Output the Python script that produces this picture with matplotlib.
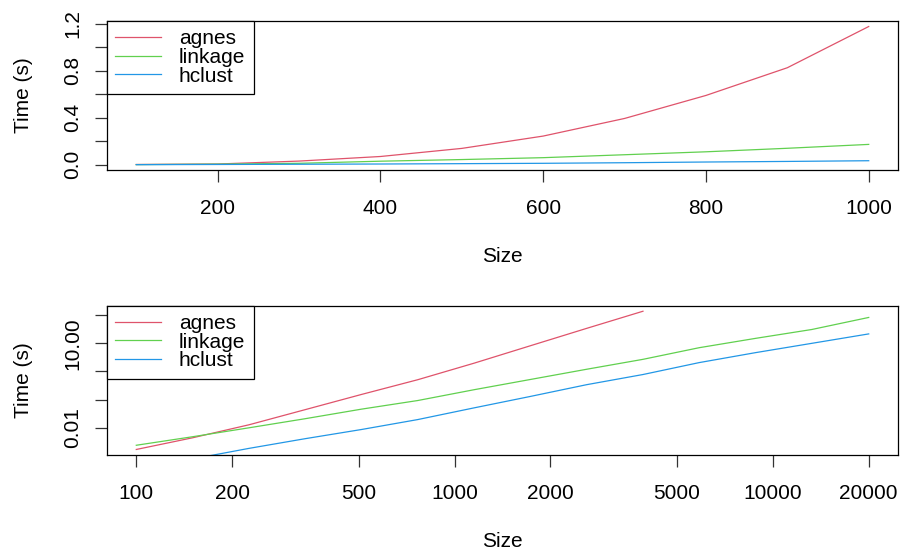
import numpy as np
import matplotlib
matplotlib.use('Agg')
import matplotlib.pyplot as plt
from matplotlib.ticker import FixedLocator, FixedFormatter, NullLocator

# data --------------------------------------------------------------------------

# top panel: linear scale, sizes 100..1000
small_sizes = [100, 200, 300, 400, 500, 600, 700, 800, 900, 1000]
small_agnes = [0.002, 0.006, 0.031, 0.070, 0.139, 0.244, 0.394, 0.590, 0.826, 1.177]
small_linkage = [0.001, 0.005, 0.012, 0.030, 0.044, 0.060, 0.085, 0.110, 0.140, 0.173]
small_hclust = [0.0005, 0.002, 0.004, 0.006, 0.009, 0.012, 0.017, 0.023, 0.028, 0.034]

# bottom panel: log-log, sizes up to 20000 (agnes stops early)
big_sizes = [100, 150, 226, 339, 510, 766, 1151, 1730, 2600, 3907,
             5870, 8821, 13255, 20000]
big_agnes = [0.0017, 0.0044, 0.0128, 0.044, 0.153, 0.51, 1.97, 8.2, 34, 138]
big_linkage = [0.0024, 0.0048, 0.010, 0.021, 0.046, 0.093, 0.225, 0.52, 1.2,
               2.7, 7.0, 15, 31, 83]
big_hclust = [0.0004, 0.00078, 0.00186, 0.0041, 0.0087, 0.0196, 0.051, 0.13,
              0.34, 0.78, 2.07, 4.67, 10, 21.6]

labels = ['agnes', 'linkage', 'hclust']
colors = ['#DF536B', '#61D04F', '#2297E6']

top_xticks = [200, 400, 600, 800, 1000]
top_yticks = [0.0, 0.2, 0.4, 0.6, 0.8, 1.0, 1.2]
top_ylabels = ['0.0', '', '0.4', '', '0.8', '', '1.2']
bot_xticks = [100, 200, 500, 1000, 2000, 5000, 10000, 20000]
bot_yticks = [0.01, 0.1, 1, 10, 100]
bot_ylabels = ['0.01', '', '', '10.00', '']

# style ------------------------------------------------------------------------
plt.rcParams['font.family'] = ['Liberation Sans', 'DejaVu Sans']
plt.rcParams['font.size'] = 15
lw = 0.9


def r_range(lo, hi, log=False):
    # R style 4% padding of the axis range
    if log:
        lo, hi = np.log10(lo), np.log10(hi)
    pad = (hi - lo) * 0.04
    lo, hi = lo - pad, hi + pad
    if log:
        return 10 ** lo, 10 ** hi
    return lo, hi


def style_axes(ax):
    for sp in ax.spines.values():
        sp.set_linewidth(lw)
    ax.tick_params(axis='both', length=8.6, width=lw, color='#333333')
    ax.tick_params(axis='x', pad=12.5)
    ax.tick_params(axis='y', pad=9, labelrotation=90)
    for t in ax.get_yticklabels():
        t.set_va('center')
    ax.set_xlabel('Size', va='center')
    ax.set_ylabel('Time (s)', va='center')
    ax.xaxis.set_label_coords(0.5, -0.58)
    ax.yaxis.set_label_coords(-0.105, 0.5)
    leg = ax.legend(loc='upper left', borderaxespad=0, fancybox=False,
                    edgecolor='black', framealpha=1, handlelength=2.2,
                    handletextpad=0.85, borderpad=0.4, labelspacing=-0.02)
    leg.get_frame().set_linewidth(lw)


fig = plt.figure(figsize=(9.02, 5.52), dpi=100)
ax1 = fig.add_axes([107 / 902, 1 - 170 / 552, 791 / 902, 149 / 552])
ax2 = fig.add_axes([107 / 902, 1 - 455 / 552, 791 / 902, 149.3 / 552])

# top panel
for ys, lab, c in zip([small_agnes, small_linkage, small_hclust], labels, colors):
    ax1.plot(small_sizes, ys, color=c, lw=lw, label=lab)
ax1.set_xlim(*r_range(min(small_sizes), max(small_sizes)))
ax1.set_ylim(*r_range(min(small_agnes), max(small_agnes)))
ax1.xaxis.set_major_locator(FixedLocator(top_xticks))
ax1.yaxis.set_major_locator(FixedLocator(top_yticks))
ax1.yaxis.set_major_formatter(FixedFormatter(top_ylabels))
style_axes(ax1)

# bottom panel
big_series = [big_agnes, big_linkage, big_hclust]
for ys, lab, c in zip(big_series, labels, colors):
    ax2.plot(big_sizes[:len(ys)], ys, color=c, lw=lw, label=lab)
ax2.set_xscale('log')
ax2.set_yscale('log')
ax2.set_xlim(*r_range(min(big_sizes), max(big_sizes), log=True))
ax2.set_ylim(*r_range(min(big_agnes), max(big_agnes), log=True))
ax2.xaxis.set_major_locator(FixedLocator(bot_xticks))
ax2.xaxis.set_major_formatter(FixedFormatter([str(v) for v in bot_xticks]))
ax2.xaxis.set_minor_locator(NullLocator())
ax2.yaxis.set_major_locator(FixedLocator(bot_yticks))
ax2.yaxis.set_major_formatter(FixedFormatter(bot_ylabels))
ax2.yaxis.set_minor_locator(NullLocator())
style_axes(ax2)

fig.savefig('out.png', dpi=100)
